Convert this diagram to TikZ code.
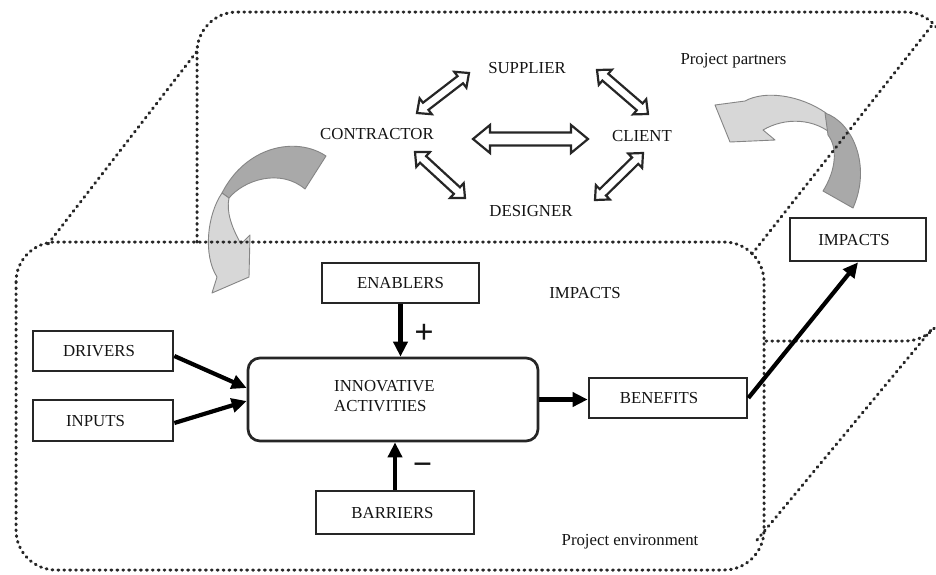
\documentclass[tikz,border=0pt]{standalone}
\usepackage{fontspec}
\setmainfont{Liberation Serif}
\usetikzlibrary{calc,arrows.meta}

\definecolor{ink}{HTML}{141414}
\definecolor{edge}{HTML}{262626}
\definecolor{dotc}{HTML}{262626}
\definecolor{ribbondark}{HTML}{A9A9A9}
\definecolor{ribbonlight}{HTML}{D7D7D7}
\definecolor{ribbonline}{HTML}{858585}

% hollow block arrow with heads at both ends:
% #1,#2 end points, #3 head length, #4 head half width, #5 shaft half width
\newcommand\twowayarrow[5]{%
  \draw[hollow] (#1)
    -- ($(#1)!#3!(#2)!#4!90:(#2)$)
    -- ($(#1)!#3!(#2)!#5!90:(#2)$)
    -- ($(#2)!#3!(#1)!#5!-90:(#1)$)
    -- ($(#2)!#3!(#1)!#4!-90:(#1)$)
    -- (#2)
    -- ($(#2)!#3!(#1)!#4!90:(#1)$)
    -- ($(#2)!#3!(#1)!#5!90:(#1)$)
    -- ($(#1)!#3!(#2)!#5!-90:(#2)$)
    -- ($(#1)!#3!(#2)!#4!-90:(#2)$)
    -- cycle;}

\begin{document}
\begin{tikzpicture}[x=1pt,y=-1pt,
  every node/.style={font=\fontsize{16.8}{20}\selectfont, text=ink},
  dots/.style={draw=dotc, line width=3pt, dash pattern=on 0.9pt off 5pt, line cap=round},
  framebox/.style={draw=edge, line width=2.7pt, fill=white, inner sep=0pt},
  capsbox/.style={framebox, text height=11pt, text depth=0pt},
  flow/.style={draw=black, line width=4.2pt, -{Triangle[length=15pt,width=14pt]}},
  hollow/.style={draw=edge, line width=2.2pt, fill=white, line join=miter},
  ribbon/.style={draw=ribbonline, line width=0.9pt, line join=round},
  plaintext/.style={anchor=base},
  sign/.style={font=\fontsize{34}{34}\selectfont\bfseries, inner sep=0pt}
]
\clip (0,0) rectangle (936,574);
\fill[white] (0,0) rectangle (936,574);

% curved ribbon arrows between the two environments
\path[ribbon, fill=ribbondark] (326,156) .. controls (296,136) and (246,146) .. (222,193)
  -- (229,198) .. controls (244,180) and (280,168) .. (305,189) -- cycle;
\path[ribbon, fill=ribbonlight] (222,193) .. controls (207,215) and (203,255) .. (217,277)
  -- (212,293) -- (249,277) -- (250,235) -- (241,244)
  .. controls (232,228) and (226,212) .. (229,198) -- cycle;

\path[ribbon, fill=ribbonlight] (826,113) .. controls (800,95) and (765,90) .. (745,101)
  -- (715,105) -- (730,142) -- (775,140) -- (763,130)
  .. controls (785,117) and (815,118) .. (834,136) -- cycle;
\path[ribbon, fill=ribbondark] (825,113) .. controls (852,122) and (872,165) .. (853,208)
  -- (823,191) .. controls (836,170) and (838,148) .. (828,135) -- cycle;

% dotted box: front face, back face and connecting edges
\draw[dots, rounded corners=40pt] (16,242) rectangle (764,570);
\draw[dots, rounded corners=40pt] (197,242) -- (197,12) -- (945,12) -- (945,341) -- (763,341);
\draw[dots] (48,244) -- (198,50);
\draw[dots] (752,254) -- (933,24);
\draw[dots] (757,540) -- (932,329);

% project partners
\node[plaintext] (supplier) at (527,73) {SUPPLIER};
\node[plaintext] (contractor) at (377,139) {CONTRACTOR};
\node[plaintext] (client) at (642,141) {CLIENT};
\node[plaintext] (designer) at (531,216) {DESIGNER};
\node[plaintext] (partners) at (733.5,64) {Project partners};

\coordinate (cs1) at (417,113); \coordinate (cs2) at (469,73);
\coordinate (sc1) at (597,70);  \coordinate (sc2) at (648,114);
\coordinate (cc1) at (473,139); \coordinate (cc2) at (588,139);
\coordinate (cd1) at (415,152); \coordinate (cd2) at (465,198);
\coordinate (dc1) at (595,200); \coordinate (dc2) at (643,153);

\twowayarrow{cs1}{cs2}{11pt}{10pt}{4.5pt}
\twowayarrow{sc1}{sc2}{11pt}{10pt}{4.5pt}
\twowayarrow{cc1}{cc2}{17pt}{14pt}{6.5pt}
\twowayarrow{cd1}{cd2}{11pt}{10pt}{4.5pt}
\twowayarrow{dc1}{dc2}{11pt}{10pt}{4.5pt}

% project environment (trailing space pushes some labels a little left)
\node[capsbox, minimum width=157pt, minimum height=40pt] (enablers) at (400.5,283) {ENABLERS};
\node[capsbox, minimum width=140pt, minimum height=40pt] (drivers) at (103,351) {DRIVERS\hspace*{8pt}};
\node[capsbox, minimum width=140pt, minimum height=41pt] (inputs) at (103,420.5) {INPUTS\hspace*{15pt}};
\node[framebox, rounded corners=12pt, minimum width=290pt, minimum height=83pt] (innov) at (393,399.5) {};
\node[anchor=north west, align=left, inner sep=0pt] (innovtext) at (334,380.5) {INNOVATIVE\\ACTIVITIES};
\node[capsbox, minimum width=158pt, minimum height=40pt] (benefits) at (668,398) {BENEFITS\hspace*{18pt}};
\node[capsbox, minimum width=158pt, minimum height=43pt] (barriers) at (395,512.5) {BARRIERS\hspace*{5pt}};
\node[capsbox, minimum width=136pt, minimum height=43pt] (impactsbox) at (858,239.5) {IMPACTS\hspace*{8pt}};

\node[plaintext] (impactslabel) at (585,298) {IMPACTS};
\node[plaintext] (environment) at (630,545) {Project environment};

\draw[flow] ($(drivers.east)+(0,5)$) -- ($(innov.west)+(0,-11.5)$);
\draw[flow] ($(inputs.east)+(0,2.5)$) -- ($(innov.west)+(0,1.5)$);
\draw[flow] (enablers.south) -- (enablers.south |- innov.north);
\draw[flow] (barriers.north) -- (barriers.north |- innov.south);
\draw[flow] (innov.east) -- (innov.east -| benefits.west);
\draw[flow] (benefits.east) -- (impactsbox.south);

\node[sign] (plus) at (424,334) {+};
\node[sign] (minus) at (422.5,469) {−};
\end{tikzpicture}
\end{document}
